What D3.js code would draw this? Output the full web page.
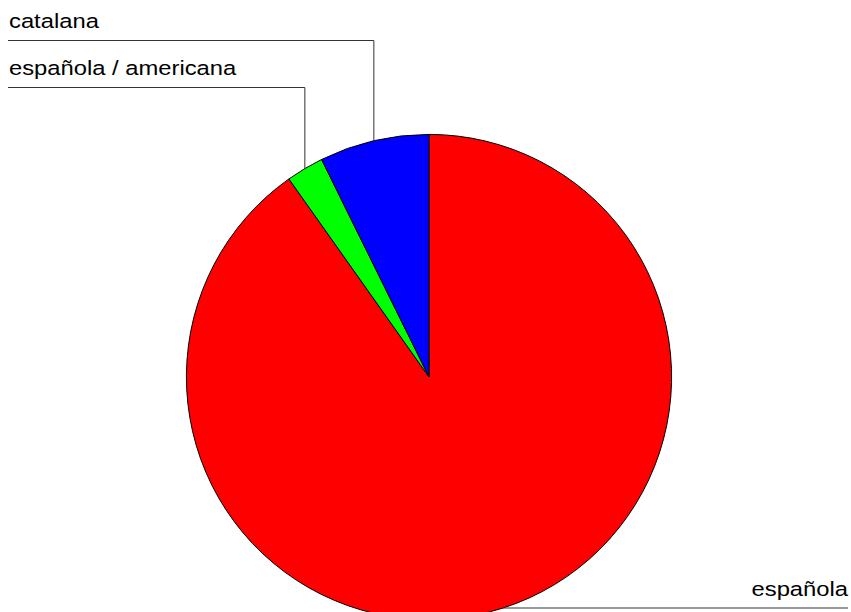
<!DOCTYPE html>
<html>
<head>
<meta charset="utf-8">
<script src="https://cdn.jsdelivr.net/npm/d3@7"></script>
<style>
  html, body { margin: 0; padding: 0; background: #fff; }
  svg { display: block; }
  text { font-family: "Liberation Sans", Arial, sans-serif; fill: #000; }
</style>
</head>
<body>
<svg id="chart" width="851" height="612"></svg>
<script>
// Data
const categories = ["española", "española / americana", "catalana"];
const values = [90.2, 2.5, 7.3];
const colors = ["#ff0000", "#00ff00", "#0000ff"];

// Layout
const W = 851, H = 612;
const cx = 429, cy = 377, R = 242.6;
const fontSize = 20.5, stretch = 1.16;
// label placement: label line y, label side
const labelLineY = [608, 87.5, 40.5];
const labelSide = ["right", "left", "left"];
const leftX = 8, rightX = 848;

const svg = d3.select("#chart");
const g = svg.append("g").attr("transform", `translate(${cx},${cy})`);

const data = categories.map((c, i) => ({ name: c, value: values[i], color: colors[i], i }));
const pie = d3.pie().sort(null).value(d => d.value).startAngle(0).endAngle(2 * Math.PI);
const arcs = pie(data);
const arc = d3.arc().innerRadius(0).outerRadius(R);

g.selectAll("path.slice")
  .data(arcs)
  .enter().append("path")
  .attr("class", "slice")
  .attr("d", arc)
  .attr("fill", d => d.data.color)
  .attr("stroke", "#000")
  .attr("stroke-width", 1);

// Leader lines and labels
arcs.forEach(a => {
  const i = a.data.i;
  const mid = (a.startAngle + a.endAngle) / 2;
  const px = cx + R * Math.sin(mid);
  const py = cy - R * Math.cos(mid);
  const ly = labelLineY[i];
  const side = labelSide[i];
  const endX = side === "left" ? leftX : rightX;
  const pts = [[px, py], [px, ly], [endX, ly]];
  svg.append("path")
    .attr("d", d3.line()(pts))
    .attr("fill", "none")
    .attr("stroke", "#333")
    .attr("stroke-width", 1);
  const tx = side === "left" ? leftX + 1 : rightX;
  const ty = ly - 12.5;
  svg.append("text")
    .attr("transform", `translate(${tx},${ty}) scale(${stretch},1)`)
    .attr("text-anchor", side === "left" ? "start" : "end")
    .attr("font-size", fontSize)
    .text(a.data.name);
});
</script>
</body>
</html>
